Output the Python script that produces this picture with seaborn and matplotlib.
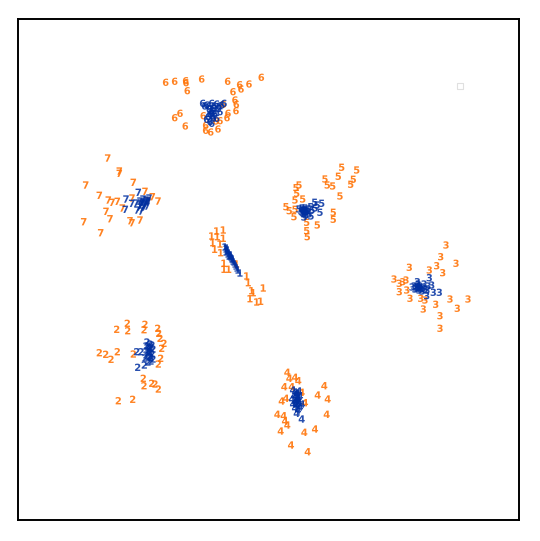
import pandas as pd
import matplotlib
matplotlib.use("Agg")
import matplotlib.pyplot as plt
import seaborn as sns

sns.set_style("white")

# embedding coordinates (x right, y down)
orange_digit = (["6"] * 28 + ["7"] * 22 + ["5"] * 24 + ["1"] * 21
                + ["3"] * 23 + ["2"] * 24 + ["4"] * 23)
orange_x = [165.7, 174.7, 185.7, 186, 201.7, 187.3, 227.7, 239.7, 241, 249, 261.3, 233, 235, 236.3,
            236, 228, 227, 180, 174.7, 185.3, 205.7, 205.7, 210.7, 218, 220, 215.7, 203.3, 223.3,
            107.7, 119.3, 119.3, 133.3, 85.7, 99.3, 108.3, 112, 117.3, 132, 145, 152.3, 158, 106,
            110, 122.3, 130, 132, 140, 83.7, 100.7, 148,
            341.7, 356.7, 325, 338.3, 353.3, 350.7, 327.3, 332.7, 299, 296, 296.7, 295, 286, 289.3,
            295, 294, 340, 333.3, 333.3, 317.3, 306.7, 306.7, 307.3, 302.7,
            216.7, 223.3, 211.7, 217.3, 223.3, 212.7, 220, 214.7, 220.7, 224, 224, 228.7, 236.7,
            246.7, 248.3, 251.7, 263.3, 250, 256.7, 260.7, 253.3,
            446, 440.7, 456, 436.7, 442.7, 429.3, 409.3, 394, 399.3, 406, 402.7, 399.3, 406.7, 410,
            420.7, 423.3, 435.7, 440, 440, 450, 457.3, 468, 425,
            127.3, 116.7, 127.7, 145, 144, 157.7, 158.7, 160, 164, 161.7, 160.7, 158.3, 99.3, 105.7,
            111, 117.3, 133.3, 143.3, 144, 151.7, 155, 158.3, 118.3, 132.7,
            287.3, 289.3, 295, 298.3, 284.3, 291.7, 301.7, 324.3, 317.7, 327.7, 281.7, 286, 305,
            277.3, 283.7, 285, 287.3, 280.7, 304.3, 315, 326.7, 291, 307.7]
orange_y = [82.3, 81.3, 80.7, 82.7, 79, 90.7, 81.3, 84.7, 89, 84, 77.3, 91.7, 100, 104.3,
            110.7, 113.3, 117.7, 113.3, 117.7, 126, 125.3, 130.3, 132, 129, 120.7, 121, 115.7, 104.3,
            158, 171, 173.3, 182.3, 185, 195.3, 200, 202.3, 201.3, 198, 191.3, 196.7, 201, 211.3,
            218.7, 208, 220.7, 222.7, 220, 221.7, 232.7, 200.7,
            167.3, 170, 179, 176.3, 179.3, 184.3, 185, 186, 185, 187.7, 193.3, 200, 206.7, 210.7,
            209.3, 216.7, 196, 212.3, 219.3, 225, 222.3, 230.7, 236.7, 199,
            231, 230, 236, 236.7, 238.3, 242.7, 244, 249.3, 252.7, 263.3, 269.3, 269.3, 264,
            276, 282.7, 290.7, 288, 298.7, 302, 301.3, 292.7,
            245, 256.7, 263.3, 265.7, 272.7, 270, 267.3, 279, 283.3, 280, 281.7, 291.7, 290, 298.3,
            298.3, 309, 304.3, 315.7, 328.3, 299, 308.3, 299, 300,
            323.3, 329.3, 330.7, 324.3, 329.7, 328.3, 333.3, 338.3, 343.3, 348.3, 358.3, 364, 352.7, 354.3,
            359.3, 351.7, 354, 378.3, 385.7, 383.3, 384, 389, 400.7, 399.3,
            372.3, 378.3, 377.3, 380.7, 386.7, 386.7, 392.3, 385.7, 395, 399, 401, 398.3, 402.7,
            414.3, 415.7, 421, 425, 431, 432.3, 429, 414.3, 445, 451.7]

blue_digit = (["6"] * 26 + ["7"] * 24 + ["5"] * 25 + ["1"] * 23
              + ["3"] * 25 + ["2"] * 26 + ["4"] * 24)
blue_x = [202.7, 206.7, 211.7, 216.7, 221.7, 224, 209.3, 213.3, 218.3, 220, 211.7, 215, 208.3, 213.3,
          210, 206.7, 216.7, 211.7, 204.7, 209, 214, 219, 212, 210, 214, 212.5,
          138.3, 126, 125.3, 131.7, 140, 143, 146, 148, 141, 144, 147, 139, 142, 145, 137, 141, 149, 136,
          143, 145, 141, 147, 144, 140,
          321.7, 314.7, 320, 310.7, 302, 304, 306, 303, 306, 309, 301, 305, 308, 312, 315, 317, 304, 311, 299,
          303, 305, 307, 302, 306, 304,
          225, 226, 227, 228, 229, 230, 231, 232, 233, 234, 235, 236, 237, 238, 240, 229, 227,
          226, 228, 230, 232, 231, 233,
          417.3, 429.3, 431.7, 433.3, 439.3, 426.7, 414, 417, 420, 423, 415, 419, 422, 425, 428, 412, 418,
          424, 427, 416, 418, 420, 421, 419, 417,
          137.7, 144.3, 136.7, 141, 150.7, 147, 150, 152, 146, 149, 153, 147, 150, 152, 146, 149, 153, 151,
          145, 148, 148, 150, 149, 151, 148, 150,
          301.7, 296.7, 293, 295, 297, 299, 294, 298, 300, 292, 296, 299, 293, 297, 300, 295, 298, 302,
          296, 297, 295, 298, 296, 297]
blue_y = [103.3, 105, 103.3, 104, 105, 103.3, 109.3, 108.3, 108.3, 111.7, 113.3, 114, 116.7, 118.3,
          121.7, 119.3, 118.3, 123.3, 106, 106, 106, 106, 111, 114, 111, 116,
          192.3, 199, 209.3, 203.3, 201, 199, 200, 202, 204, 205, 206, 207, 208, 203, 210, 211, 198, 203,
          202, 204, 203, 201, 207, 205,
          203.3, 202.3, 212.3, 206.7, 208, 210, 212, 213, 215, 214, 211, 208, 209, 210, 208, 205, 217, 216, 209,
          210, 212, 211, 212, 210, 214,
          247, 249, 251, 250, 253, 255, 257, 258, 261, 262, 264, 266, 268, 270, 273, 256, 248,
          252, 254, 256, 259, 255, 259,
          281.7, 277.7, 285, 292.3, 292.3, 295.7, 286, 287, 286, 288, 289, 290, 291, 289, 286, 287, 284,
          284, 290, 288, 288, 288, 289, 287, 286,
          367.3, 365, 351.7, 351.7, 357.7, 342, 344, 345, 346, 348, 349, 351, 352, 354, 355, 357, 359, 361,
          358, 362, 346, 348, 350, 347, 353, 356,
          419, 413.3, 390, 392, 394, 391, 396, 398, 396, 399, 401, 402, 404, 405, 407, 408, 410, 404,
          396, 399, 402, 400, 404, 393]

df = pd.concat([
    pd.DataFrame({"x": orange_x, "y": orange_y, "digit": orange_digit, "group": "orange"}),
    pd.DataFrame({"x": blue_x, "y": blue_y, "digit": blue_digit, "group": "blue"}),
], ignore_index=True)

markers = {d: r"$\mathbf{" + d + "}$" for d in "1234567"}

fig = plt.figure(figsize=(5.4, 5.41), dpi=100)
ax = fig.add_axes([18 / 540, 1 - 520 / 541, 501 / 540, 501 / 541])
sns.scatterplot(data=df[df.group == "orange"], x="x", y="y", style="digit", markers=markers,
                color="#ff750a", s=28, linewidth=0, alpha=0.9, legend=False, ax=ax)
sns.scatterplot(data=df[df.group == "blue"], x="x", y="y", style="digit", markers=markers,
                color="#002fa0", s=28, linewidth=0, alpha=0.85, legend=False, ax=ax)
# faint stray marker at top right
ax.scatter([460], [86], marker="s", s=14, facecolors="none", edgecolors="#e0e0e0", linewidths=0.8)

ax.set_xlim(18, 519)
ax.set_ylim(520, 19)
ax.set_xticks([])
ax.set_yticks([])
ax.set_xlabel("")
ax.set_ylabel("")
for sp in ax.spines.values():
    sp.set_color("black")
    sp.set_linewidth(1.4)

fig.savefig("out.png", dpi=100)
